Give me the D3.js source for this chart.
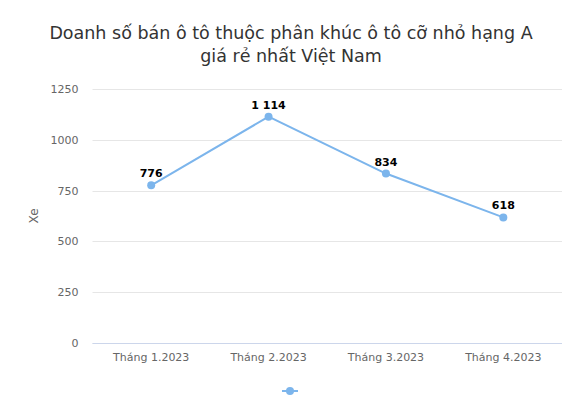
<!DOCTYPE html>
<html><head><meta charset="utf-8">
<script src="https://cdn.jsdelivr.net/npm/d3@7"></script>
<style>
body{margin:0;background:#fff;}
text{font-family:"DejaVu Sans","Lucida Grande",sans-serif;}
</style></head>
<body><svg id="c" width="582" height="413"></svg>
<script>
const categories = ["Tháng 1.2023","Tháng 2.2023","Tháng 3.2023","Tháng 4.2023"];
const values = [776, 1114, 834, 618];
const yTicks = [0, 250, 500, 750, 1000, 1250];
const titleLines = ["Doanh số bán ô tô thuộc phân khúc ô tô cỡ nhỏ hạng A","giá rẻ nhất Việt Nam"];
const yTitle = "Xe";

const svg = d3.select("#c");
const W = 582, H = 413;
const m = {left: 92.5, right: 20, top: 89, bottom: 70};
const x = d3.scaleBand().domain(categories).range([m.left, W - m.right]);
const y = d3.scaleLinear().domain([0, 1250]).range([343, 89]);

svg.append("rect").attr("width", W).attr("height", H).attr("fill", "#fff");

svg.append("text").attr("x", W/2).attr("text-anchor", "middle")
  .attr("fill", "#333").style("font-size", "17.5px")
  .selectAll("tspan").data(titleLines).join("tspan")
  .attr("x", W/2).attr("y", (d,i) => 39 + i*23).text(d => d);

// grid
svg.append("g").selectAll("line").data(yTicks).join("line")
  .attr("x1", m.left).attr("x2", W - m.right)
  .attr("y1", d => Math.round(y(d)) + 0.5).attr("y2", d => Math.round(y(d)) + 0.5)
  .attr("stroke", "#e6e6e6");

// y axis labels
const ya = svg.append("g").attr("transform", `translate(${m.left},0)`)
  .call(d3.axisLeft(y).tickValues(yTicks).tickSize(0).tickPadding(14).tickFormat(d3.format("d")));
ya.select(".domain").remove();
ya.selectAll("text").attr("fill", "#666").style("font-size", "11px");

svg.append("text").attr("transform", `translate(38,${(89+343)/2}) rotate(-90)`)
  .attr("text-anchor", "middle").attr("fill", "#666").style("font-size", "12px").text(yTitle);

// x axis
const xa = svg.append("g").attr("transform", "translate(0,343.5)")
  .call(d3.axisBottom(x).tickSize(0).tickPadding(10));
xa.select(".domain").attr("stroke", "#ccd6eb").attr("d", `M${m.left},0H${W - m.right}`);
xa.selectAll("text").attr("fill", "#666").style("font-size", "11px");

const cx = d => x(d) + x.bandwidth()/2;
const pts = categories.map((c,i) => ({c, v: values[i]}));

svg.append("path").datum(pts)
  .attr("d", d3.line().x(d => cx(d.c)).y(d => y(d.v)))
  .attr("fill", "none").attr("stroke", "#7cb5ec").attr("stroke-width", 2);

svg.append("g").selectAll("circle").data(pts).join("circle")
  .attr("cx", d => cx(d.c)).attr("cy", d => y(d.v)).attr("r", 4).attr("fill", "#7cb5ec");

const fmt = v => { const s = String(v); return s.length > 3 ? s.slice(0, s.length-3) + " " + s.slice(-3) : s; };
svg.append("g").selectAll("text").data(pts).join("text")
  .attr("x", d => cx(d.c)).attr("y", d => y(d.v) - 8)
  .attr("text-anchor", "middle").style("font-size", "11px").style("font-weight", "bold")
  .attr("fill", "#000").attr("stroke", "#fff").attr("stroke-width", 2).attr("paint-order", "stroke")
  .attr("stroke-linejoin", "round")
  .text(d => fmt(d.v));

// legend
const lg = svg.append("g").attr("transform", "translate(290,391)");
lg.append("line").attr("x1", -8).attr("x2", 8).attr("stroke", "#7cb5ec").attr("stroke-width", 2);
lg.append("circle").attr("r", 4).attr("fill", "#7cb5ec");
</script></body></html>
